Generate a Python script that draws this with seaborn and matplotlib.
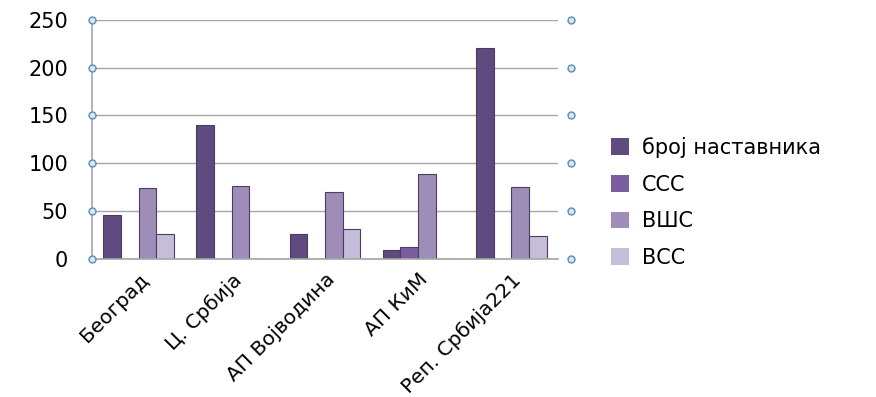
import pandas as pd
import matplotlib.pyplot as plt
import seaborn as sns

regions = ['Београд', 'Ц. Србија', 'АП Војводина', 'АП КиМ', 'Реп. Србија221']
series = ['број наставника', 'ССС', 'ВШС', 'ВСС']
broj = [46, 140, 26, 9, 221]
sss = [0, 0, 0, 12, 0]
vss_h = [74, 76, 70, 89, 75]
vss = [26, 0, 31, 0, 24]
yticks = [0, 50, 100, 150, 200, 250]

palette = {'број наставника': '#5f4b7f', 'ССС': '#7a5d9d',
           'ВШС': '#9e8cb9', 'ВСС': '#c6bdd8'}

rows = []
for i, r in enumerate(regions):
    for s, vals in zip(series, [broj, sss, vss_h, vss]):
        rows.append({'region': r, 'series': s, 'value': vals[i]})
df = pd.DataFrame(rows)

sns.set_theme(style="white")
plt.rcParams['font.family'] = ['DejaVu Sans']

fig = plt.figure(figsize=(8.76, 3.97), dpi=100)
ax = fig.add_axes([0.105, 0.348, 0.532, 0.602])

sns.barplot(data=df, x='region', y='value', hue='series', palette=palette,
            order=regions, hue_order=series, width=0.76, ax=ax,
            edgecolor='#4a3d60', linewidth=0.8, saturation=1)

ax.set_ylim(0, 250)
ax.set_xlim(-0.5, 4.5)
ax.set_yticks(yticks)
ax.set_yticklabels([str(t) for t in yticks], fontsize=15, color='black')
ax.yaxis.grid(True, color='#a6a6a6', linewidth=1)
ax.set_axisbelow(True)
ax.set_xlabel('')
ax.set_ylabel('')
ax.set_xticks(range(len(regions)))
ax.set_xticklabels(regions, rotation=45, ha='right', rotation_mode='anchor',
                   fontsize=14.5, color='black')
ax.set_xticks([x - 0.5 for x in range(len(regions) + 1)], minor=True)
ax.tick_params(axis='x', which='major', length=0, pad=8)
ax.tick_params(axis='x', which='minor', length=6, color='#a6a6a6', width=1,
               direction='out')
ax.tick_params(axis='y', length=5, color='#a6a6a6', width=1, pad=12)
for side in ['top', 'right']:
    ax.spines[side].set_visible(False)
for side in ['left', 'bottom']:
    ax.spines[side].set_color('#a6a6a6')
    ax.spines[side].set_linewidth(1.2)

# small circle markers at the grid line ends
for xe in [-0.5, 4.64]:
    ax.plot([xe] * len(yticks), yticks, 'o', ms=5, mfc='#d6e6f2', mec='#5b8db5',
            mew=1, clip_on=False, zorder=5)

leg = ax.legend(loc='upper left', bbox_to_anchor=(0.698, 0.655),
                bbox_transform=fig.transFigure, frameon=False, borderaxespad=0,
                borderpad=0, fontsize=15, labelspacing=0.8, handlelength=0.85,
                handleheight=0.85, handletextpad=0.6, labelcolor='black')
for h in leg.legend_handles:
    h.set_edgecolor('none')

fig.savefig('out.png', dpi=100)
plt.close()
